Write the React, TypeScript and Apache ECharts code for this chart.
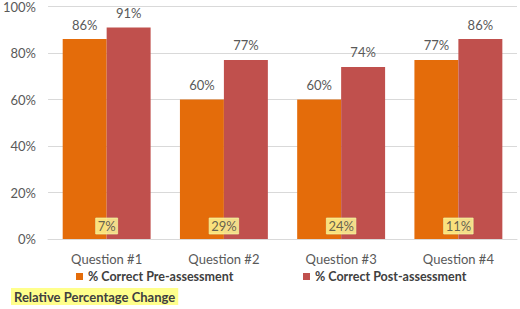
import React, { useEffect, useRef } from "react";
import * as echarts from "echarts";

const categories = ["Question #1", "Question #2", "Question #3", "Question #4"];
const preValues = [86, 60, 60, 77];
const postValues = [91, 77, 74, 86];
const relChange = [7, 29, 24, 11];
const yTicks = [0, 20, 40, 60, 80, 100];

const FONT = "Lato, 'Open Sans', sans-serif";

export default function App() {
  const ref = useRef<HTMLDivElement>(null);
  useEffect(() => {
    document.body.style.margin = "0";
    const chart = echarts.init(ref.current!, null, { renderer: "svg" });
    chart.setOption({
      animation: false,
      textStyle: { fontFamily: FONT },
      grid: { left: 44, right: 3, top: 6, bottom: 70 },
      title: {
        text: "Relative Percentage Change",
        left: 11,
        top: 288,
        padding: [2, 3, 2, 3],
        backgroundColor: "#FFFF8C",
        textStyle: { fontSize: 13, fontWeight: "bold", color: "#404040", fontFamily: FONT },
      },
      legend: [
        {
          data: ["% Correct Pre-assessment"],
          left: 71,
          top: 265,
          itemWidth: 7,
          itemHeight: 7,
          icon: "rect",
          itemGap: 4,
          textStyle: { fontSize: 12.5, fontWeight: "bold", color: "#404040", fontFamily: FONT },
        },
        {
          data: ["% Correct Post-assessment"],
          left: 298,
          top: 265,
          itemWidth: 7,
          itemHeight: 7,
          icon: "rect",
          textStyle: { fontSize: 12.5, fontWeight: "bold", color: "#404040", fontFamily: FONT },
        },
      ],
      xAxis: {
        type: "category",
        data: categories,
        axisTick: { show: false },
        axisLine: { lineStyle: { color: "#D9D9D9" } },
        axisLabel: { color: "#595959", fontSize: 13, margin: 13, fontFamily: FONT },
      },
      yAxis: {
        type: "value",
        min: yTicks[0],
        max: yTicks[yTicks.length - 1],
        interval: 20,
        axisLabel: { formatter: "{value}%", color: "#595959", fontSize: 13, margin: 12, fontFamily: FONT },
        splitLine: { lineStyle: { color: "#D9D9D9" } },
        axisLine: { show: false },
        axisTick: { show: false },
      },
      series: [
        {
          name: "% Correct Pre-assessment",
          type: "bar",
          data: preValues,
          barGap: "0%",
          barCategoryGap: "25%",
          itemStyle: { color: "#E46C0A" },
          label: { show: true, position: "top", distance: 8, formatter: "{c}%", color: "#595959", fontSize: 13, fontFamily: FONT },
        },
        {
          name: "% Correct Post-assessment",
          type: "bar",
          data: postValues,
          itemStyle: { color: "#C0504D" },
          label: { show: true, position: "top", distance: 8, formatter: "{c}%", color: "#595959", fontSize: 13, fontFamily: FONT },
        },
        {
          name: "Relative Percentage Change",
          type: "scatter",
          data: relChange.map((v) => ({ value: 0, rel: v })),
          symbolSize: 0,
          silent: true,
          z: 10,
          label: {
            show: true,
            position: "inside",
            offset: [0, -13],
            formatter: (p: any) => p.data.rel + "%",
            color: "#404040",
            fontSize: 13,
            fontFamily: FONT,
            backgroundColor: "#FFFF99",
            borderColor: "#E0E0A0",
            borderWidth: 0.5,
            padding: [2, 2, 1, 2],
          },
        },
      ],
    });
    return () => chart.dispose();
  }, []);
  return <div ref={ref} style={{ width: 520, height: 309 }} />;
}
